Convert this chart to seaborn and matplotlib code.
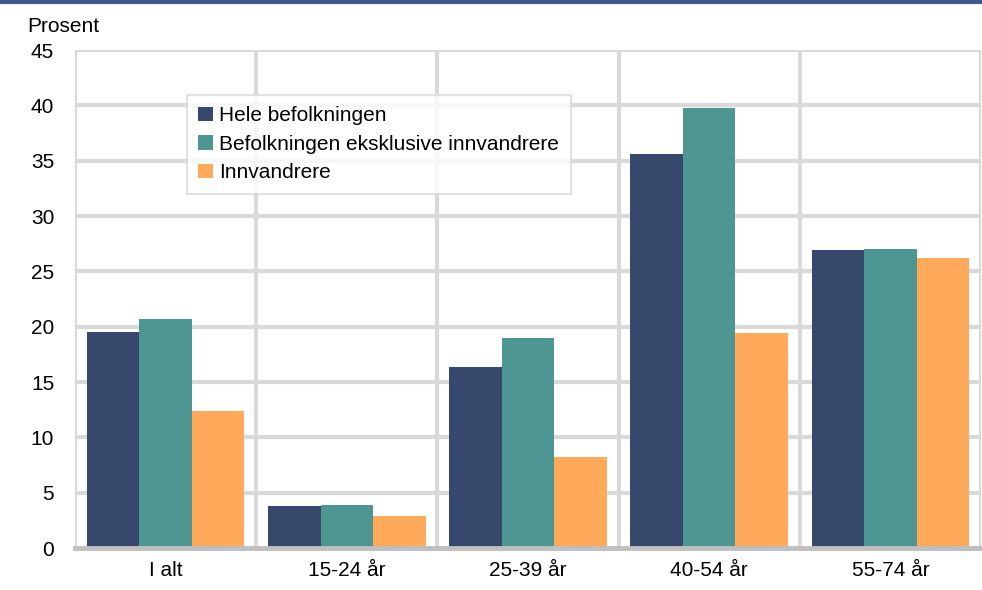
import pandas as pd
import matplotlib.pyplot as plt
import seaborn as sns

# Data
categories = ['I alt', '15-24 år', '25-39 år', '40-54 år', '55-74 år']
hele = [19.5, 3.8, 16.4, 35.6, 26.9]
ekskl = [20.7, 3.9, 19.0, 39.8, 27.0]
innv = [12.4, 2.9, 8.2, 19.4, 26.2]
series = ['Hele befolkningen', 'Befolkningen eksklusive innvandrere', 'Innvandrere']
colors = ['#36486b', '#4d9692', '#ffaa5a']

df = pd.DataFrame({
    'Gruppe': categories * 3,
    'Serie': [series[0]] * 5 + [series[1]] * 5 + [series[2]] * 5,
    'Prosent': hele + ekskl + innv,
})

sns.set_style('white')
plt.rcParams['font.family'] = ['Liberation Sans', 'DejaVu Sans']
plt.rcParams['text.color'] = 'black'

fig = plt.figure(figsize=(9.82, 5.9), dpi=100)
ax = fig.add_axes([75 / 982, 1 - 548 / 590, 906 / 982, 498 / 590])

sns.barplot(data=df, x='Gruppe', y='Prosent', hue='Serie', palette=colors,
            width=0.87, saturation=1, linewidth=0, ax=ax, zorder=3, legend=True)

ax.set_ylim(0, 45)
ax.set_xlim(-0.5, 4.5)
ax.set_yticks(range(0, 50, 5))
ax.set_xlabel('')
ax.set_ylabel('')

# grid
for y in range(5, 50, 5):
    ax.axhline(y, color='#d9d9d9', lw=3, zorder=1)
for x in [-0.5, 0.5, 1.5, 2.5, 3.5, 4.5]:
    ax.axvline(x, color='#d9d9d9', lw=3, zorder=1)

for s in ['top', 'right', 'left']:
    ax.spines[s].set_visible(False)
ax.spines['bottom'].set_color('#bfbfbf')
ax.spines['bottom'].set_linewidth(3.5)
ax.spines['bottom'].set_zorder(4)

ax.tick_params(axis='both', length=0, labelsize=15, colors='black')
ax.tick_params(axis='x', pad=9)
ax.tick_params(axis='y', pad=15)

ax.text(-0.053, 1.028, 'Prosent', transform=ax.transAxes, fontsize=15, ha='left', va='bottom',
        color='black')

leg = ax.legend(loc='upper left', bbox_to_anchor=(112 / 906, 1 - 45 / 498), fontsize=15,
                frameon=True, fancybox=False, edgecolor='#d9d9d9', labelcolor='black',
                handlelength=0.7, handleheight=0.7, handletextpad=0.3,
                labelspacing=0.45, borderpad=0.55, borderaxespad=0)
leg.get_frame().set_linewidth(1.5)
leg.set_zorder(5)

# top rule
fig.add_artist(plt.Line2D([0, 1], [1 - 1.5 / 590, 1 - 1.5 / 590], color='#3f5a8c', lw=3))

fig.savefig('out.png', dpi=100)
